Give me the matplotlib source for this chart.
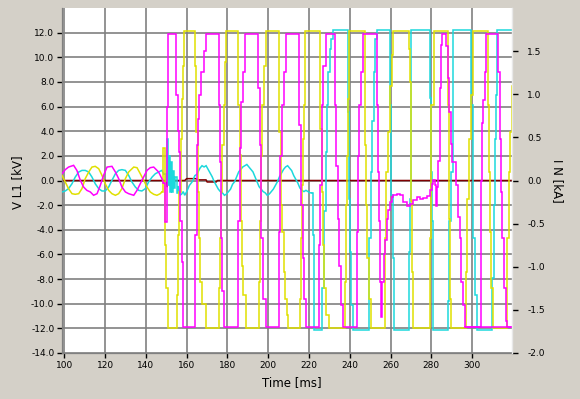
import matplotlib
matplotlib.use("Agg")
import matplotlib.pyplot as plt
import numpy as np

# ---------------- data (time in ms, values in kV) ----------------
magenta_t = [98.8, 100.4, 102.0, 104.5, 106.1, 107.8, 109.4, 111.0, 112.7, 114.3, 116.0, 117.6,
             119.2, 120.9, 123.3, 125.0, 126.6, 128.2, 129.9, 131.5, 134.0, 135.6, 138.0, 140.5,
             142.1, 143.8, 146.2, 147.8,
             148.6, 149.2, 150.2, 151.0,
             154.9, 155.5, 156.2, 156.8, 157.5, 158.0, 158.3,
             164.0, 164.8, 165.5, 166.2, 167.0, 168.5, 169.3,
             175.6, 176.1, 176.6, 177.3, 178.4,
             185.4, 185.9, 186.6, 187.5, 188.8,
             195.2, 195.8, 196.5, 197.6, 198.7,
             205.2, 205.9, 206.8, 207.7, 208.9,
             215.3, 216.1, 216.9, 217.5, 218.3,
             225.0, 225.6, 226.2, 227.0, 228.2,
             232.8, 233.4, 234.0, 234.6, 235.5, 236.8,
             243.4, 244.1, 244.7, 245.4, 246.5,
             253.2, 253.9, 254.5, 255.0, 255.4,
             256.0, 256.6, 257.3, 258.1, 258.9, 259.8, 260.6, 261.4, 263.0, 264.7, 266.3, 267.9,
             269.6, 271.2, 272.8, 274.5, 276.1, 277.7, 279.4, 280.2, 281.0, 281.8, 282.3, 283.0,
             283.3, 284.1, 284.9, 285.4,
             287.4, 288.2, 288.7, 289.5, 290.3, 292.3, 293.1, 293.9, 294.8, 295.6, 296.4,
             304.2, 305.0, 305.4, 306.2, 307.0,
             312.8, 313.5, 314.2, 314.9, 315.6, 316.5, 317.3, 320.0]
magenta_v = [0.55, 0.88, 1.09, 1.23, 0.82, 0.01, -0.53, -0.80, -0.93, -1.20, -1.07, -0.39,
             0.42, 1.09, 1.15, 0.69, 0.15, -0.53, -0.93, -1.07, -1.20, -0.80, 0.01, 0.82,
             1.04, 1.09, 0.69, 0.15,
             -0.2, -3.4, 6.0, 11.9,
             6.9, 4.0, 2.3, -3.3, -6.6, -10.9, -11.9,
             -4.4, 2.9, 5.0, 6.9, 8.8, 10.5, 11.9,
             6.1, 1.5, -4.7, -9.0, -11.9,
             -3.3, 2.6, 6.4, 8.8, 11.9,
             7.5, 2.9, -4.7, -9.6, -11.9,
             -4.2, 2.0, 6.1, 8.8, 11.9,
             4.5, -2.0, -6.3, -9.6, -11.9,
             -5.2, -0.4, 6.1, 9.3, 11.9,
             6.1, 1.2, -3.1, -6.9, -10.1, -11.9,
             -4.2, 2.0, 6.1, 8.8, 11.9,
             6.1, 0.7, -3.3, -8.2, -11.1,
             -8.2, -6.0, -4.85, -3.09, -2.42, -1.74, -1.34, -1.15, -1.07, -1.20, -1.74, -2.07,
             -1.88, -1.61, -1.34, -1.47, -1.39, -1.28, -0.80, -0.26, 0.01, -0.39, -2.09, -0.53,
             1.6, 7.5, 11.0, 11.9,
             10.9, 8.3, 5.6, 3.0, 1.5, -0.4, -3.0, -4.7, -8.2, -10.1, -11.9,
             0.0, 4.7, 6.5, 8.8, 11.9,
             8.8, 3.4, -0.9, -4.7, -8.7, -11.4, -11.9, -11.9]
magenta_floor_t = [296.4, 320.0]
magenta_floor_v = [-11.9, -11.9]

yellow_t = [98.8, 100.4, 102.0, 103.7, 105.3, 107.0, 108.6, 110.2, 111.9, 113.5, 115.1, 116.8,
            118.4, 120.0, 121.7, 123.3, 125.0, 126.6, 128.2, 129.9, 131.5, 134.0, 135.6, 137.2,
            138.9, 140.5, 142.1, 143.8, 145.4, 147.0, 147.8,
            148.6, 149.4, 150.0, 150.6,
            155.2, 155.8, 156.4, 157.0, 157.5, 158.0, 158.7,
            164.1, 164.7, 165.4, 165.9, 166.5, 167.5, 169.5,
            175.6, 176.2, 176.8, 177.5, 178.1, 178.8, 179.3,
            185.4, 186.0, 186.5, 187.0, 187.8, 189.0,
            195.3, 195.9, 196.5, 197.1, 197.9, 198.9,
            205.4, 206.3, 206.9, 207.6, 208.2, 209.0, 209.5,
            215.5, 216.1, 216.7, 217.2, 217.7, 218.2,
            225.4, 226.2, 226.7, 227.4, 228.2, 229.8,
            237.7, 238.2, 238.8, 239.3, 239.8,
            247.5, 248.0, 248.6, 249.3, 250.4,
            257.2, 258.0, 258.8, 259.6, 260.5, 261.4,
            268.9, 269.4, 269.9, 270.2, 270.5, 271.0,
            279.2, 279.7, 280.1, 281.2,
            288.0, 288.5, 289.0, 289.5,
            297.2, 297.7, 298.4, 299.3, 300.5,
            307.9, 308.3, 308.8, 309.5, 310.3,
            317.2, 318.0, 318.8, 319.6]
yellow_v = [0.42, -0.12, -0.66, -1.07, -1.12, -1.07, -0.66, 0.15, 0.69, 1.09, 1.15, 0.96,
            0.42, -0.26, -0.80, -1.07, -1.20, -1.07, -0.66, 0.15, 0.69, 1.09, 1.04, 0.55,
            0.01, -0.53, -0.93, -1.12, -1.20, -1.07, -0.93,
            2.6, -5.2, -8.7, -12.0,
            -9.3, -4.4, -0.9, 3.4, 6.6, 9.3, 12.1,
            9.3, 3.9, -0.9, -4.7, -8.2, -10.0, -12.0,
            -8.7, -4.7, -0.9, 2.9, 6.1, 9.6, 12.1,
            6.1, 2.1, -3.3, -6.9, -9.3, -12.0,
            -8.2, -3.3, 2.0, 6.1, 9.3, 12.1,
            3.9, -2.0, -4.2, -7.4, -9.6, -10.9, -12.0,
            -9.6, -4.7, -0.4, 3.4, 6.1, 12.1,
            4.2, -0.9, -5.2, -8.7, -10.9, -12.0,
            -8.2, -2.0, 2.0, 6.6, 12.1,
            2.9, -2.0, -6.3, -9.6, -12.0,
            -4.7, 0.7, 3.9, 7.7, 10.2, 12.1,
            10.7, 8.0, 3.4, -1.7, -7.4, -12.0,
            -4.7, 0.7, 6.1, 12.1,
            6.1, -3.1, -9.6, -12.0,
            -7.4, -1.5, 3.4, 6.9, 12.1,
            6.1, 0.7, -4.2, -8.7, -12.0,
            -4.7, 0.7, 3.9, 7.7]

cyan_t = [98.8, 100.4, 102.0, 103.7, 105.3, 107.0, 108.6, 110.2, 111.9, 113.5, 115.1, 116.8,
          118.4, 120.0, 121.7, 123.3, 125.0, 126.6, 128.2, 129.9, 131.5, 133.1, 134.8, 136.4,
          138.0, 139.7, 141.3, 143.0, 144.6, 146.2, 147.8,
          148.8, 149.6, 150.4, 150.9, 151.3, 151.8, 152.2, 152.8, 153.3, 153.8, 154.4, 155.0,
          155.8, 156.7, 157.5, 158.3, 159.0, 160.0, 161.3, 162.7, 164.0, 165.0, 166.5, 167.5,
          168.5, 169.5, 170.5, 171.5, 172.5, 173.5, 174.5, 175.5, 176.5, 177.5, 178.5, 179.5,
          180.5, 181.5, 182.5, 183.5, 184.5, 185.5, 186.5, 187.5, 188.5, 189.5, 190.5, 191.5,
          192.5, 193.5, 194.5, 195.5, 196.5, 197.5, 198.5, 199.5, 200.5, 201.5, 202.5, 203.5,
          204.5, 205.5, 206.5, 207.5, 208.5, 209.5, 210.5, 211.5, 212.5, 213.5, 214.5, 215.5,
          216.5, 217.5, 218.5, 219.5, 220.5, 221.4,
          221.8, 222.4,
          226.4, 227.3, 228.1, 228.7, 229.4, 230.2, 231.0, 231.8,
          239.3, 239.7, 240.1, 240.8, 241.7,
          249.3, 250.3, 251.0, 251.8, 252.6, 253.2,
          259.8, 260.4, 261.0, 261.5,
          269.2, 269.7, 270.2,
          279.2, 279.7, 280.2, 280.9,
          288.4, 288.8, 289.5, 290.7,
          299.7, 300.5, 301.3, 302.6,
          310.0, 310.8, 311.4, 311.9, 312.4, 320.0]
cyan_v = [-0.93, -0.85, -0.66, -0.26, 0.28, 0.69, 0.82, 0.82, 0.69, 0.28, -0.26, -0.66,
          -0.85, -0.85, -0.53, 0.01, 0.55, 0.82, 0.88, 0.82, 0.42, -0.12, -0.53, -0.80,
          -0.85, -0.66, -0.12, 0.28, 0.55, 0.69, 0.82,
          0.5, 0.0, 3.4, -0.4, 2.0, -0.9, 1.5, -0.9, 0.8, -0.6, 0.3, -1.0,
          -0.5, -1.2, -1.1, -0.9, -1.2, -0.9, -0.4, -0.1, 0.4, 0.5, 1.0, 1.2,
          1.1, 1.2, 0.9, 0.6, 0.3, -0.1, -0.4, -0.7, -0.9, -1.0, -1.2, -1.1,
          -0.9, -0.7, -0.3, -0.1, 0.3, 0.7, 0.9, 1.1, 1.2, 1.3, 1.1, 0.9,
          0.7, 0.3, -0.1, -0.5, -0.7, -0.9, -1.0, -1.2, -1.1, -0.9, -0.7, -0.4,
          -0.1, 0.3, 0.6, 0.9, 1.1, 1.2, 1.0, 0.8, 0.4, 0.1, -0.2, -0.6,
          -0.8, -0.9, -0.8, -0.9, -1.0, -1.0,
          -4.4, -12.1,
          -8.7, -2.5, 2.3, 6.1, 8.8, 10.7, 11.5, 12.2,
          5.6, -1.5, -5.8, -10.1, -12.1,
          -4.7, 0.7, 4.8, 8.8, 11.5, 12.2,
          6.1, -1.2, -6.3, -12.1,
          -5.8, -1.5, 12.2,
          6.7, 0.7, -3.3, -12.1,
          -9.8, -3.3, 0.7, 12.2,
          6.1, -4.7, -9.3, -12.1,
          -7.9, -2.0, 3.4, 6.9, 12.2, 12.2]

darkred_t = [98.8, 150.0, 150.4, 151.0, 151.6, 152.2, 153.0, 159.0, 160.0, 164.5, 165.5,
             169.5, 170.0, 174.5, 175.0, 320.0]
darkred_v = [0.0, 0.0, -0.5, 0.3, -0.4, 0.1, 0.0, 0.0, 0.15, 0.15, 0.05,
             0.05, -0.12, -0.12, 0.0, 0.0]

left_ticks = [-14, -12, -10, -8, -6, -4, -2, 0, 2, 4, 6, 8, 10, 12]
right_ticks = [-2.0, -1.5, -1.0, -0.5, 0.0, 0.5, 1.0, 1.5]
x_ticks = [100, 120, 140, 160, 180, 200, 220, 240, 260, 280, 300]

# time windows drawn as smooth (linear) lines; the rest is drawn as sampled steps
magenta_smooth = [(98.0, 148.6)]
yellow_smooth = [(98.0, 147.8)]
cyan_smooth = [(98.0, 148.8), (155.8, 221.4)]

# ---------------- figure ----------------
W, H = 580, 399
bg = '#d4d0c8'
fig = plt.figure(figsize=(W / 100, H / 100), dpi=100, facecolor=bg)
ax = fig.add_axes([62 / W, 1 - 353 / H, 450 / W, 345 / H])
ax.set_facecolor('white')
ax.set_xlim(98.8, 319.6)
ax.set_ylim(-14, 14)

grid_c = '#808080'
ax.set_xticks(x_ticks)
ax.set_yticks(left_ticks)
ax.set_yticklabels([f"{v:.1f}" for v in left_ticks])
ax.grid(True, color=grid_c, linewidth=1.2)
ax.set_axisbelow(True)

lw = 1.1


def draw_trace(t, v, smooth, color, z):
    t = np.asarray(t, float)
    v = np.asarray(v, float)
    bounds = sorted(set([t[0], t[-1]] + [x for w in smooth for x in w]))
    for a, b in zip(bounds[:-1], bounds[1:]):
        m = (t >= a - 1e-9) & (t <= b + 1e-9)
        if m.sum() < 2:
            continue
        is_smooth = any(a >= wa - 1e-9 and b <= wb + 1e-9 for wa, wb in smooth)
        ax.plot(t[m], v[m], color=color, lw=lw, zorder=z,
                drawstyle='default' if is_smooth else 'steps-post',
                solid_joinstyle='miter')


ax.plot(darkred_t, darkred_v, color='#800000', lw=lw, zorder=2)
draw_trace(cyan_t, cyan_v, cyan_smooth, '#1cd8dc', 3)
draw_trace(yellow_t, yellow_v, yellow_smooth, '#e0e000', 4)
ax.plot(magenta_floor_t, magenta_floor_v, color='#ff00ff', lw=lw, zorder=5)
draw_trace(magenta_t, magenta_v, magenta_smooth, '#ff00ff', 5)

for s in ['top', 'right']:
    ax.spines[s].set_visible(False)
for s in ['left', 'bottom']:
    ax.spines[s].set_color(grid_c)
    ax.spines[s].set_linewidth(0.9)

fs = 6.5
ax.tick_params(axis='both', direction='out', length=3.5, width=1, color='black',
               labelsize=fs, pad=2)

ax2 = ax.twinx()
ax2.set_ylim(-2, 2)
ax2.set_yticks(right_ticks)
ax2.set_yticklabels([f"{v:.1f}" for v in right_ticks])
for s in ['top', 'left', 'bottom']:
    ax2.spines[s].set_visible(False)
ax2.spines['right'].set_color('#e8e8e8')
ax2.spines['right'].set_linewidth(1.0)
ax2.tick_params(axis='y', direction='out', length=4, width=1, color='black',
                labelsize=fs, pad=7)

fig.text(18 / W, 1 - 182 / H, 'V L1 [kV]', rotation=90, ha='center', va='center', fontsize=8.5)
fig.text(557 / W, 1 - 181 / H, 'I N [kA]', rotation=270, ha='center', va='center', fontsize=8.5)
fig.text(292 / W, 1 - 383 / H, 'Time [ms]', ha='center', va='center', fontsize=8.5)

fig.savefig('out.png', dpi=100, facecolor=bg)
